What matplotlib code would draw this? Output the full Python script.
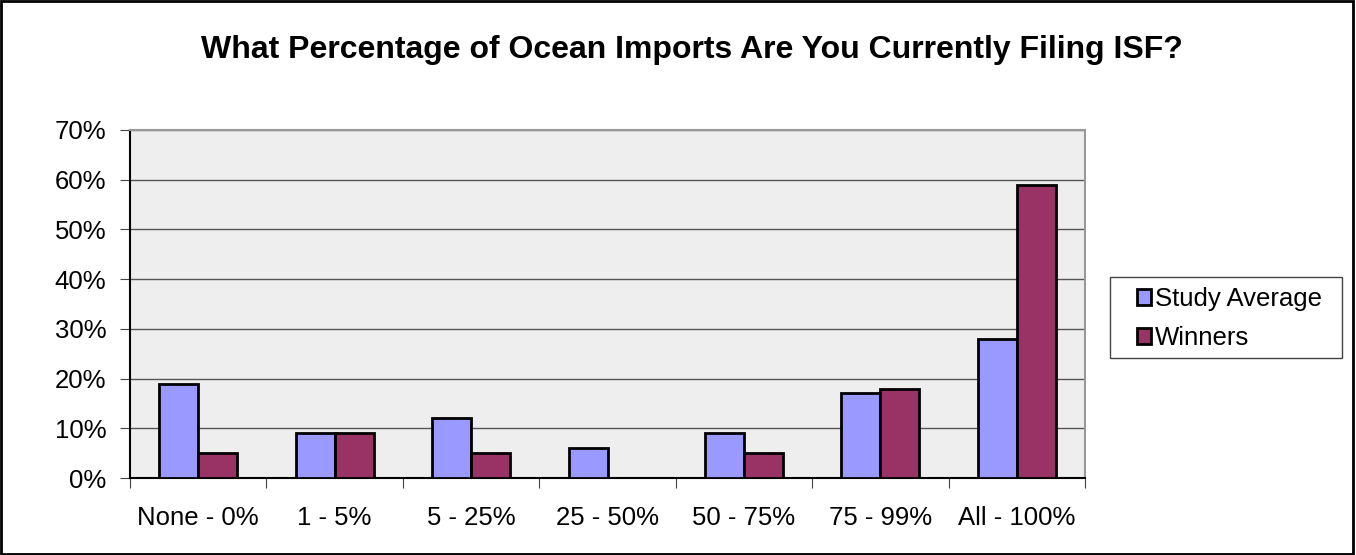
import matplotlib.pyplot as plt
import numpy as np

plt.rcParams['font.family'] = ['Liberation Sans', 'DejaVu Sans']

#--------------------------------------------------------------------#
# Data
categories = ["None - 0%", "1 - 5%", "5 - 25%", "25 - 50%", "50 - 75%", "75 - 99%", "All - 100%"]
study_average = [19, 9, 12, 6, 9, 17, 28]
winners = [5, 9, 5, 0, 5, 18, 59]
series_names = ["Study Average", "Winners"]

#--------------------------------------------------------------------#
W, H = 1356, 555
fig = plt.figure(figsize=(W / 100, H / 100), dpi=100)
ax = fig.add_axes([130 / W, 1 - 478 / H, (1085 - 130) / W, (478 - 130) / H])
ax.set_facecolor("#EEEEEE")

x = np.arange(len(categories))
w = 1 / 3.5
b1 = ax.bar(x - w / 2, study_average, w, color="#9999FF", edgecolor="black", linewidth=2,
            label=series_names[0], zorder=3)
b2 = ax.bar(x + w / 2, winners, w, color="#993366", edgecolor="black", linewidth=2,
            label=series_names[1], zorder=3)

ax.set_xlim(-0.5, len(categories) - 0.5)
ax.set_ylim(0, 70)
ax.set_yticks(np.arange(0, 71, 10))
ax.set_yticklabels([f"{v}%" for v in range(0, 71, 10)], fontsize=18.5)
ax.yaxis.grid(True, color="#555555", linewidth=1, zorder=0)

# category labels in the middle, ticks on the boundaries
ax.set_xticks(np.arange(-0.5, len(categories)), minor=False)
ax.set_xticklabels([])
ax.set_xticks(x, minor=True)
ax.set_xticklabels(categories, minor=True, fontsize=18.5)
ax.tick_params(axis="x", which="minor", length=0, pad=20)
ax.tick_params(axis="x", which="major", length=7, color="#444444")
ax.tick_params(axis="y", length=7, color="#444444", pad=10)

for side in ["top", "right"]:
    ax.spines[side].set_color("#999999")
    ax.spines[side].set_linewidth(1.5)
ax.spines["left"].set_linewidth(1.5)
ax.spines["bottom"].set_linewidth(1.5)

fig.text(692 / W, 1 - 50 / H, "What Percentage of Ocean Imports Are You Currently Filing ISF?",
         ha="center", va="center", fontsize=23, fontweight="bold")

# legend entries without frame, box drawn separately
leg = fig.legend(handles=[b1, b2], loc="center left",
                 bbox_to_anchor=(1137 / W, 1 - 318.5 / H), fontsize=18.5,
                 frameon=False, handlelength=0.55, handleheight=0.55,
                 handletextpad=0.15, borderpad=0, labelspacing=0.58, borderaxespad=0)
for p in leg.get_patches():
    p.set_linewidth(2)
fig.patches.append(plt.Rectangle((1110 / W, 1 - 358 / H), 232 / W, 81 / H,
                                 transform=fig.transFigure, fill=False,
                                 edgecolor="#444444", linewidth=1))

# outer border of the whole chart
fig.patches.append(plt.Rectangle((0.001, 0.002), 0.997, 0.996, transform=fig.transFigure,
                                 fill=False, edgecolor="black", linewidth=2))

fig.savefig("out.png", dpi=100)
